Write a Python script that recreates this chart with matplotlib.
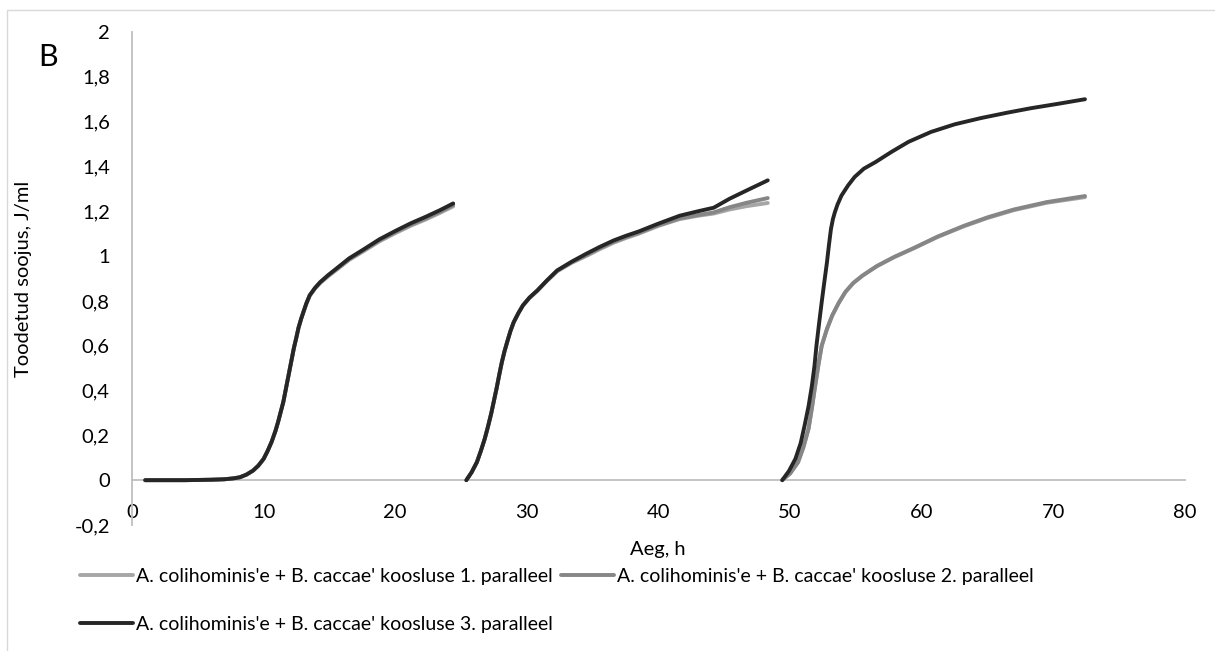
import numpy as np
import matplotlib.pyplot as plt
from matplotlib.patches import Rectangle

plt.rcParams['font.family'] = ['Lato', 'DejaVu Sans']

# three runs per parallel, separated by gaps (Aeg, h -> Toodetud soojus, J/ml)
t_a = [1, 2, 3, 4, 5, 6, 7, 7.7, 8.2, 8.7, 9.2, 9.6, 10, 10.3, 10.6, 10.9, 11.1, 11.3, 11.5, 11.7, 11.9,
       12.1, 12.3, 12.5, 12.65, 12.85, 13.05, 13.25, 13.5, 13.9, 14.3, 14.9, 15.5, 16.5, 17.6, 18.8, 20.1,
       21.2, 22.3, 23.4, 24.4]
t_b = [25.4, 25.8, 26.2, 26.5, 26.8, 27.05, 27.3, 27.5, 27.7, 27.9, 28.1, 28.3, 28.5, 28.75, 29.0, 29.35,
       29.7, 30.2, 30.8, 31.5, 32.3, 33.4, 34.5, 35.5, 36.6, 37.5, 38.5, 40.0, 41.6, 43.0, 44.2, 45.4,
       46.7, 48.3]
t_c12 = [49.4, 50.0, 50.6, 51.0, 51.4, 51.65, 51.9, 52.15, 52.4, 52.8, 53.2, 53.7, 54.2, 54.8, 55.5,
         56.6, 57.9, 59.4, 61.2, 63.2, 65.0, 67.0, 69.5, 72.4]
t_c3 = [49.4, 49.9, 50.4, 50.8, 51.1, 51.4, 51.65, 51.85, 52.0, 52.2, 52.4, 52.6, 52.8, 52.95, 53.1,
        53.25, 53.4, 53.6, 53.9, 54.4, 54.9, 55.6, 56.5, 57.7, 59.0, 60.7, 62.5, 64.5, 66.5, 68.3,
        70.4, 72.4]

p1_a = [0, 0, 0, 0, 0.001, 0.002, 0.004, 0.008, 0.013, 0.025, 0.043, 0.065, 0.095, 0.13, 0.17, 0.22,
        0.26, 0.305, 0.35, 0.41, 0.47, 0.53, 0.59, 0.64, 0.68, 0.72, 0.755, 0.787, 0.823, 0.855,
        0.88, 0.91, 0.937, 0.983, 1.022, 1.066, 1.105, 1.136, 1.163, 1.193, 1.222]
p2_a = [0, 0, 0, 0, 0.001, 0.002, 0.004, 0.008, 0.013, 0.025, 0.043, 0.065, 0.095, 0.13, 0.17, 0.22,
        0.26, 0.305, 0.35, 0.41, 0.47, 0.53, 0.59, 0.64, 0.68, 0.72, 0.755, 0.788, 0.824, 0.856,
        0.882, 0.912, 0.94, 0.986, 1.026, 1.07, 1.11, 1.141, 1.168, 1.198, 1.228]
p3_a = [0, 0, 0, 0, 0.001, 0.002, 0.004, 0.008, 0.013, 0.025, 0.043, 0.065, 0.095, 0.13, 0.17, 0.22,
        0.26, 0.305, 0.35, 0.41, 0.47, 0.53, 0.59, 0.64, 0.68, 0.72, 0.755, 0.79, 0.825, 0.858,
        0.884, 0.915, 0.943, 0.99, 1.03, 1.075, 1.115, 1.147, 1.175, 1.205, 1.235]

p1_b = [0, 0.035, 0.08, 0.13, 0.185, 0.24, 0.30, 0.355, 0.41, 0.47, 0.527, 0.575, 0.616, 0.665, 0.705,
        0.745, 0.78, 0.813, 0.845, 0.888, 0.932, 0.97, 1.0, 1.03, 1.06, 1.08, 1.10, 1.135, 1.165,
        1.18, 1.19, 1.208, 1.223, 1.237]
p2_b = [0, 0.035, 0.08, 0.13, 0.185, 0.24, 0.30, 0.355, 0.41, 0.47, 0.527, 0.575, 0.616, 0.665, 0.705,
        0.745, 0.78, 0.814, 0.846, 0.889, 0.934, 0.972, 1.004, 1.034, 1.064, 1.084, 1.104, 1.138, 1.168,
        1.183, 1.195, 1.218, 1.238, 1.259]
p3_b = [0, 0.035, 0.08, 0.13, 0.185, 0.24, 0.30, 0.355, 0.41, 0.47, 0.527, 0.575, 0.616, 0.665, 0.705,
        0.745, 0.78, 0.815, 0.847, 0.89, 0.936, 0.975, 1.01, 1.04, 1.07, 1.09, 1.11, 1.145, 1.18,
        1.2, 1.216, 1.256, 1.293, 1.338]

p1_c = [0, 0.03, 0.08, 0.145, 0.23, 0.32, 0.42, 0.515, 0.60, 0.675, 0.735, 0.792, 0.84, 0.88, 0.913,
        0.955, 0.995, 1.035, 1.085, 1.133, 1.17, 1.205, 1.238, 1.263]
p2_c = [0, 0.03, 0.08, 0.145, 0.23, 0.32, 0.42, 0.515, 0.60, 0.675, 0.735, 0.792, 0.84, 0.88, 0.913,
        0.956, 0.996, 1.036, 1.087, 1.135, 1.173, 1.208, 1.241, 1.268]
p3_c = [0, 0.04, 0.095, 0.165, 0.244, 0.33, 0.42, 0.51, 0.60, 0.70, 0.795, 0.885, 0.973, 1.05, 1.12,
        1.165, 1.196, 1.23, 1.27, 1.315, 1.353, 1.39, 1.42, 1.465, 1.51, 1.554, 1.588, 1.616, 1.64,
        1.66, 1.68, 1.70]

labels = ["A. colihominis'e + B. caccae' koosluse 1. paralleel",
          "A. colihominis'e + B. caccae' koosluse 2. paralleel",
          "A. colihominis'e + B. caccae' koosluse 3. paralleel"]
colors = ['#a6a6a6', '#868686', '#262626']

x_ticks = [0, 10, 20, 30, 40, 50, 60, 70, 80]
y_ticks = [-0.2, 0, 0.2, 0.4, 0.6, 0.8, 1, 1.2, 1.4, 1.6, 1.8, 2]
y_ticklabels = ['-0,2', '0', '0,2', '0,4', '0,6', '0,8', '1', '1,2', '1,4', '1,6', '1,8', '2']

W, H = 1215, 651
fig = plt.figure(figsize=(W / 100, H / 100), dpi=100)
fig.patches.append(Rectangle((7 / W, -0.05), 1.2, 1.05 - 10 / H, transform=fig.transFigure,
                             fill=False, edgecolor='#d9d9d9', lw=1.0))
ax = fig.add_axes([132 / W, 1 - 525 / H, (1185 - 132) / W, (525 - 32) / H])

series = [
    (t_a, p1_a, t_b, p1_b, t_c12, p1_c),
    (t_a, p2_a, t_b, p2_b, t_c12, p2_c),
    (t_a, p3_a, t_b, p3_b, t_c3, p3_c),
]
handles = []
for (ta, ya, tb, yb, tc, yc), col, lab in zip(series, colors, labels):
    x = np.concatenate([ta, [np.nan], tb, [np.nan], tc])
    y = np.concatenate([ya, [np.nan], yb, [np.nan], yc])
    h, = ax.plot(x, y, color=col, lw=2.8, solid_capstyle='round', solid_joinstyle='round',
                 label=lab, zorder=3)
    handles.append(h)

ax.set_xlim(0, 80)
ax.set_ylim(-0.2, 2)
ax.set_xticks(x_ticks)
ax.set_xticklabels([str(v) for v in x_ticks])
ax.set_yticks(y_ticks)
ax.set_yticklabels(y_ticklabels)
ax.tick_params(axis='both', length=0, labelsize=14.5, colors='#000000')
ax.tick_params(axis='x', pad=17)
ax.tick_params(axis='y', pad=16)
for s in ['top', 'right']:
    ax.spines[s].set_visible(False)
ax.spines['bottom'].set_position(('data', 0))
ax.spines['bottom'].set_color('#bfbfbf')
ax.spines['left'].set_color('#bfbfbf')
ax.spines['bottom'].set_linewidth(1.3)
ax.spines['left'].set_linewidth(1.3)

fig.text(24 / W, 1 - 279 / H, 'Toodetud soojus, J/ml', rotation=90, ha='center', va='center', fontsize=14.5)
fig.text(658 / W, 1 - 550 / H, 'Aeg, h', ha='center', va='center', fontsize=14.5)
fig.text(48 / W, 1 - 57 / H, 'B', ha='center', va='center', fontsize=22)

leg = fig.legend([handles[0], handles[2], handles[1]], [labels[0], labels[2], labels[1]],
                 ncol=2, loc='upper left', bbox_to_anchor=(80 / W, 1 - 568 / H),
                 frameon=False, fontsize=14, handlelength=2.7, handletextpad=0.2,
                 columnspacing=0.4, labelspacing=1.6, borderpad=0, borderaxespad=0)

fig.savefig('out.png', dpi=100)
